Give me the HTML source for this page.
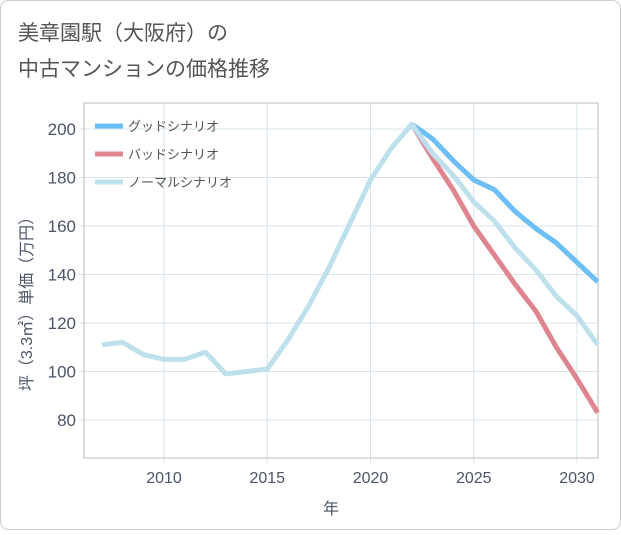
<!DOCTYPE html>
<html><head><meta charset="utf-8"><style>
html,body{margin:0;padding:0;background:#fff;}
body{width:621px;height:530px;overflow:hidden;font-family:"Liberation Sans","Noto Sans CJK JP",sans-serif;}
</style></head><body>
<svg width="621" height="530" xmlns="http://www.w3.org/2000/svg" font-family="Liberation Sans, Noto Sans CJK JP, sans-serif">
<rect x="0.5" y="0.5" width="620" height="529" rx="8" fill="#fff" stroke="#ccc"/>
<text x="18" y="40" font-size="21" fill="#555">美章園駅（大阪府）の</text>
<text x="18" y="76" font-size="21" fill="#555">中古マンションの価格推移</text>
<g id="grid"></g>
<rect x="84" y="103" width="514" height="355" fill="none" stroke="#bbb"/>
<g id="axes"></g>
<g id="series"></g>
<g>
<line x1="95" y1="126" x2="123" y2="126" stroke="#6cbef5" stroke-width="5"/>
<text x="128" y="131" font-size="13" fill="#555">グッドシナリオ</text>
<line x1="95" y1="154" x2="123" y2="154" stroke="#df858f" stroke-width="5"/>
<text x="128" y="159" font-size="13" fill="#555">バッドシナリオ</text>
<line x1="95" y1="182" x2="123" y2="182" stroke="#bde0ec" stroke-width="5"/>
<text x="128" y="187" font-size="13" fill="#555">ノーマルシナリオ</text>
</g>
<text x="331" y="514" font-size="16" fill="#4a5568" text-anchor="middle">年</text>
<text transform="translate(32,300) rotate(-90)" font-size="16" fill="#4a5568" text-anchor="middle">坪（3.3㎡）単価（万円）</text>
</svg>
<script>
const yearsNormal=[2007,2008,2009,2010,2011,2012,2013,2014,2015,2016,2017,2018,2019,2020,2021,2022,2023,2024,2025,2026,2027,2028,2029,2030,2031];
const normalValues=[111,112,107,105,105,108,99,100,101,113,127,143,161,179,192,202,190,181,170,162,151,142,131,123,111];
const yearsFuture=[2022,2023,2024,2025,2026,2027,2028,2029,2030,2031];
const goodValues=[202,196,187,179,175,166,159,153,145,137];
const badValues=[202,188,175,160,148,136,125,110,97,83];
const xTicks=[2010,2015,2020,2025,2030];
const yTicks=[80,100,120,140,160,180,200];
const NS="http://www.w3.org/2000/svg";
const xS=y=>164+(y-2010)*(577-164)/20;
const yS=v=>129+(200-v)*(420-129)/120;
const grid=document.getElementById('grid'),axes=document.getElementById('axes'),ser=document.getElementById('series');
function mk(t,a,p){const e=document.createElementNS(NS,t);for(const k in a)e.setAttribute(k,a[k]);p.appendChild(e);return e;}
xTicks.forEach(t=>{const x=xS(t);
const l=mk('line',{x1:x,y1:103,x2:x,y2:463,stroke:'#d6e4ec'},grid);


const tx=mk('text',{x:x,y:483,'font-size':16,fill:'#4a5568','text-anchor':'middle'},axes);tx.textContent=t;

});
yTicks.forEach(t=>{const y=yS(t);
const l=mk('line',{x1:79,y1:y,x2:598,y2:y,stroke:'#d6e4ec'},grid);


const tx=mk('text',{x:76,y:y+6,'font-size':17,fill:'#4a5568','text-anchor':'end'},axes);tx.textContent=t;

});
function line(xs,vs,c,name){const p=mk('polyline',{points:xs.map((x,i)=>xS(x)+','+yS(vs[i])).join(' '),fill:'none',stroke:c,'stroke-width':5,'stroke-linejoin':'round'},ser);

}
line(yearsFuture,goodValues,'#6cbef5','good-scenario-line');
line(yearsFuture,badValues,'#df858f','bad-scenario-line');
line(yearsNormal,normalValues,'#bde0ec','normal-scenario-line');
</script>
</body></html>
